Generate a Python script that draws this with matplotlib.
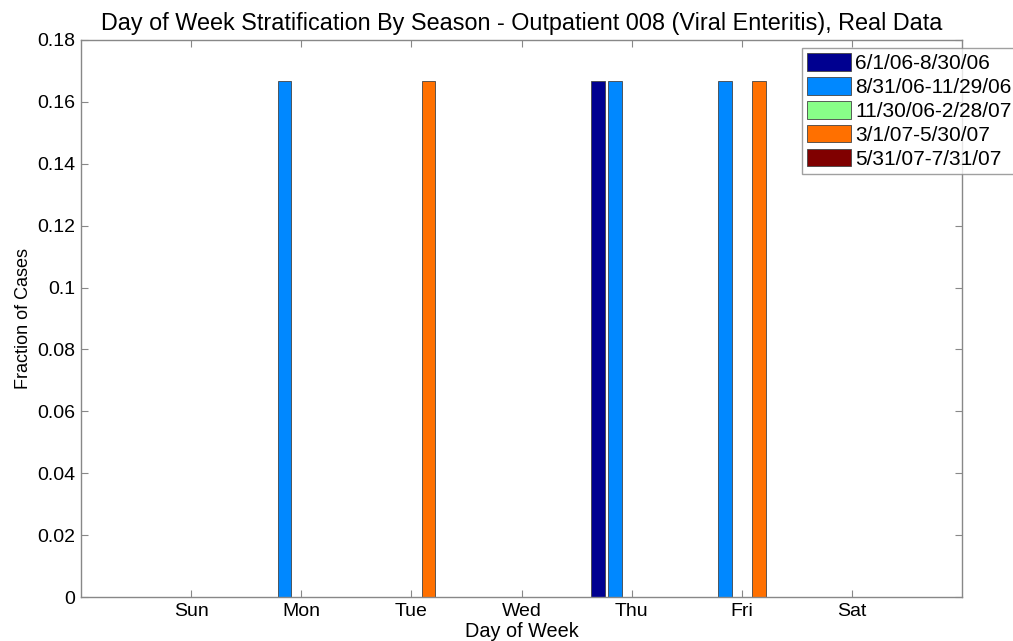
import numpy as np
import matplotlib.pyplot as plt

days = ['Sun', 'Mon', 'Tue', 'Wed', 'Thu', 'Fri', 'Sat']
seasons = ['6/1/06-8/30/06', '8/31/06-11/29/06', '11/30/06-2/28/07',
           '3/1/07-5/30/07', '5/31/07-7/31/07']
colors = ['#000090', '#0088ff', '#88ff88', '#ff7000', '#800000']

# fraction of cases, one row per season, columns Sun..Sat
frac_s1 = [0, 0, 0, 0, 0.1667, 0, 0]
frac_s2 = [0, 0.1667, 0, 0, 0.1667, 0.1667, 0]
frac_s3 = [0, 0, 0, 0, 0, 0, 0]
frac_s4 = [0, 0, 0.1667, 0, 0, 0.1667, 0]
frac_s5 = [0, 0, 0, 0, 0, 0, 0]
data = [frac_s1, frac_s2, frac_s3, frac_s4, frac_s5]

plt.rcParams['font.family'] = ['Liberation Sans', 'DejaVu Sans']

fig = plt.figure(figsize=(10.13, 6.41), dpi=100)
ax = fig.add_axes([0.080, 0.0686, 0.8697, 0.869])

x = np.arange(1, len(days) + 1)
n = len(data)
group_w = min(0.8, n / (n + 1.5))
step = group_w / n
for i, vals in enumerate(data):
    off = -group_w / 2 + (i + 0.5) * step
    ax.bar(x + off, vals, width=step * 0.8, color=colors[i],
           edgecolor='#444444', linewidth=0.6, label=seasons[i])

ax.set_xlim(0, 8)
ax.set_ylim(0, 0.18)
ax.set_xticks(x)
ax.set_xticklabels(days)
yt = np.arange(0, 0.181, 0.02)
ax.set_yticks(yt)
ax.set_yticklabels(['0'] + ['%g' % round(v, 2) for v in yt[1:]])

for s in ax.spines.values():
    s.set_color('#888888')
    s.set_linewidth(1.0)
ax.tick_params(direction='in', length=5, color='#888888', labelsize=14,
               top=True, right=True, pad=4)

ax.set_title('Day of Week Stratification By Season - Outpatient 008 (Viral Enteritis), Real Data',
             fontsize=16.8, pad=7)
ax.set_xlabel('Day of Week', fontsize=14.3, labelpad=2)
ax.set_ylabel('Fraction of Cases', fontsize=13, labelpad=4)

leg = ax.legend(loc='upper left', bbox_to_anchor=(802 / 1013, 1 - 48 / 641),
                bbox_transform=fig.transFigure, fontsize=15, frameon=True,
                fancybox=False, handlelength=2.1, handleheight=0.9,
                borderaxespad=0, borderpad=0.25, labelspacing=0.2,
                handletextpad=0.2)
leg.get_frame().set_edgecolor('#888888')
leg.get_frame().set_linewidth(1.0)

fig.savefig('out.png', dpi=100)
